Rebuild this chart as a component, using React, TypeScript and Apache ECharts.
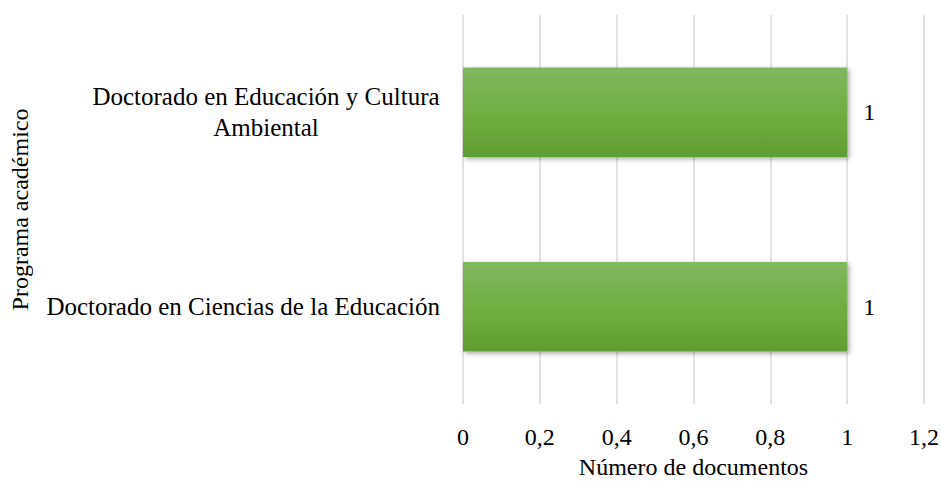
import React, { useEffect, useRef } from "react";
import * as echarts from "echarts";

const categories = [
  "Doctorado en Ciencias de la Educación",
  "Doctorado en Educación y Cultura\nAmbiental",
];
const values = [1, 1];
const xTicks = { min: 0, max: 1.2, interval: 0.2 };
const xTitle = "Número de documentos";
const yTitle = "Programa académico";

const FONT = "'Liberation Serif', 'Times New Roman', serif";

export default function App() {
  const ref = useRef<HTMLDivElement>(null);
  useEffect(() => {
    const chart = echarts.init(ref.current!, null, { renderer: "svg" });
    chart.setOption({
      animation: false,
      backgroundColor: "#ffffff",
      textStyle: { fontFamily: FONT, color: "#000" },
      grid: {
        left: 463,
        right: 17,
        top: 15,
        bottom: 77,
        containLabel: false,
        outerBoundsMode: "none",
      },
      xAxis: {
        type: "value",
        min: xTicks.min,
        max: xTicks.max,
        interval: xTicks.interval,
        name: xTitle,
        nameLocation: "middle",
        nameGap: 51,
        nameTextStyle: { fontFamily: FONT, fontSize: 24, lineHeight: 24, color: "#000" },
        axisLine: { show: false },
        axisTick: { show: false },
        axisLabel: {
          fontFamily: FONT,
          fontSize: 24,
          color: "#000",
          margin: 21,
          formatter: (v: number) => String(Math.round(v * 10) / 10).replace(".", ","),
        },
        splitLine: { show: true, lineStyle: { color: "#d9d9d9", width: 1.5 } },
      },
      yAxis: {
        type: "category",
        data: categories,
        name: yTitle,
        nameLocation: "middle",
        nameGap: 431,
        nameRotate: 90,
        nameTextStyle: { fontFamily: FONT, fontSize: 24, color: "#000" },
        axisLine: { show: false },
        axisTick: { show: false },
        axisLabel: {
          fontFamily: FONT,
          fontSize: 25,
          color: "#000",
          margin: 23,
          lineHeight: 31,
          formatter: (v: string) =>
            v.includes("\n")
              ? v
                  .split("\n")
                  .map((s) => `{c|${s}}`)
                  .join("\n")
              : v,
          rich: {
            c: {
              width: 348,
              align: "center",
              fontFamily: FONT,
              fontSize: 25,
              lineHeight: 31,
              color: "#000",
            },
          },
        },
        splitLine: { show: false },
      },
      series: [
        {
          type: "bar",
          data: values,
          barWidth: "46%",
          itemStyle: {
            color: new echarts.graphic.LinearGradient(0, 0, 0, 1, [
              { offset: 0, color: "#81b862" },
              { offset: 0.5, color: "#6faf43" },
              { offset: 1, color: "#5f9d33" },
            ]),
            shadowColor: "rgba(0,0,0,0.35)",
            shadowBlur: 5,
            shadowOffsetX: 2,
            shadowOffsetY: 2,
          },
          label: {
            show: true,
            position: "right",
            distance: 16,
            fontFamily: FONT,
            fontSize: 24,
            color: "#000",
          },
        },
      ],
    });
    return () => chart.dispose();
  }, []);
  return (
    <div
      ref={ref}
      style={{ position: "fixed", left: 0, top: 0, width: 941, height: 481 }}
    />
  );
}
